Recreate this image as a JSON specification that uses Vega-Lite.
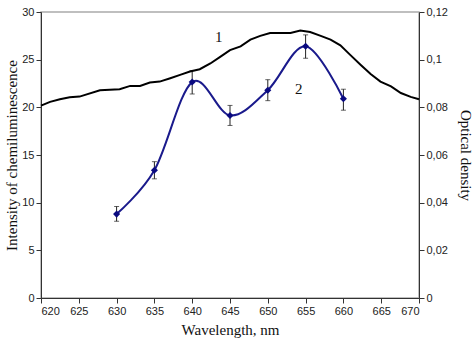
{
  "$schema": "https://vega.github.io/schema/vega-lite/v6.json",
  "autosize": {"type": "none"},
  "width": 378,
  "height": 286,
  "padding": {"left": 41, "top": 12, "right": 55, "bottom": 57},
  "background": "white",
  "config": {
    "view": {"stroke": "#aaaaaa", "strokeWidth": 1.5},
    "axis": {
      "grid": false,
      "domainColor": "#333333",
      "tickColor": "#333333",
      "tickSize": 5,
      "labelFont": "Liberation Sans",
      "labelFontSize": 11,
      "labelColor": "#222222",
      "titleFont": "Liberation Serif",
      "titleFontSize": 15,
      "titleFontWeight": "normal",
      "titleColor": "#111111"
    }
  },
  "datasets": {
    "od": [
      {"wl": 620.0, "od": 0.0807},
      {"wl": 621.2, "od": 0.0823},
      {"wl": 622.5, "od": 0.0834},
      {"wl": 623.8, "od": 0.0842},
      {"wl": 625.1, "od": 0.0845},
      {"wl": 627.8, "od": 0.0872},
      {"wl": 630.4, "od": 0.0876},
      {"wl": 631.8, "od": 0.089},
      {"wl": 633.1, "od": 0.089},
      {"wl": 634.4, "od": 0.0904},
      {"wl": 635.7, "od": 0.0908},
      {"wl": 637.1, "od": 0.0922},
      {"wl": 638.4, "od": 0.0936},
      {"wl": 639.7, "od": 0.095},
      {"wl": 641.0, "od": 0.096},
      {"wl": 642.4, "od": 0.0984},
      {"wl": 643.7, "od": 0.1012},
      {"wl": 645.0, "od": 0.104},
      {"wl": 646.4, "od": 0.1056},
      {"wl": 647.7, "od": 0.1084},
      {"wl": 649.0, "od": 0.11},
      {"wl": 650.3, "od": 0.1112},
      {"wl": 651.7, "od": 0.1112},
      {"wl": 653.0, "od": 0.1112},
      {"wl": 654.3, "od": 0.1122},
      {"wl": 655.6, "od": 0.1116},
      {"wl": 657.0, "od": 0.11},
      {"wl": 658.3, "od": 0.1084},
      {"wl": 659.6, "od": 0.106},
      {"wl": 660.9, "od": 0.102},
      {"wl": 662.3, "od": 0.0978},
      {"wl": 663.6, "od": 0.094},
      {"wl": 664.9, "od": 0.0908},
      {"wl": 666.3, "od": 0.0888},
      {"wl": 667.6, "od": 0.086},
      {"wl": 668.9, "od": 0.0844},
      {"wl": 670.0, "od": 0.0834}
    ],
    "cl": [
      {"wl": 630, "cl": 8.8, "lo": 8.05, "hi": 9.6},
      {"wl": 635, "cl": 13.4, "lo": 12.5, "hi": 14.3},
      {"wl": 640, "cl": 22.65, "lo": 21.4, "hi": 23.85},
      {"wl": 645, "cl": 19.15, "lo": 18.1, "hi": 20.2},
      {"wl": 650, "cl": 21.8, "lo": 20.7, "hi": 22.9},
      {"wl": 655, "cl": 26.4, "lo": 25.15, "hi": 27.6},
      {"wl": 660, "cl": 20.9, "lo": 19.7, "hi": 21.9}
    ],
    "labels": [
      {"wl": 643.5, "y": 27.4, "text": "1"},
      {"wl": 654.1, "y": 21.9, "text": "2"}
    ]
  },
  "encoding": {
    "x": {
      "field": "wl",
      "type": "quantitative",
      "scale": {"domain": [620, 670], "nice": false},
      "axis": {"values": [620, 625, 630, 635, 640, 645, 650, 655, 660, 665, 670], "title": "Wavelength, nm", "titlePadding": 6}
    }
  },
  "layer": [
    {
      "layer": [
        {
          "data": {"name": "cl"},
          "mark": {"type": "rule", "color": "#222222", "strokeWidth": 1},
          "encoding": {
            "y": {"field": "lo", "type": "quantitative", "scale": {"domain": [0, 30], "nice": false}},
            "y2": {"field": "hi"}
          }
        },
        {
          "data": {"name": "cl"},
          "mark": {"type": "tick", "color": "#222222", "size": 5, "thickness": 1, "orient": "horizontal"},
          "encoding": {"y": {"field": "lo", "type": "quantitative"}}
        },
        {
          "data": {"name": "cl"},
          "mark": {"type": "tick", "color": "#222222", "size": 5, "thickness": 1, "orient": "horizontal"},
          "encoding": {"y": {"field": "hi", "type": "quantitative"}}
        },
        {
          "data": {"name": "cl"},
          "mark": {"type": "line", "color": "#1a1a8c", "strokeWidth": 2, "interpolate": "cardinal"},
          "encoding": {
            "y": {
              "field": "cl",
              "type": "quantitative",
              "scale": {"domain": [0, 30], "nice": false},
              "axis": {"orient": "left", "values": [0, 5, 10, 15, 20, 25, 30], "title": "Intensity of chemiluminescence", "titlePadding": 2}
            }
          }
        },
        {
          "data": {"name": "cl"},
          "mark": {"type": "point", "shape": "diamond", "filled": true, "color": "#0a0a80", "size": 50, "opacity": 1},
          "encoding": {"y": {"field": "cl", "type": "quantitative"}}
        },
        {
          "data": {"name": "labels"},
          "mark": {"type": "text", "font": "Liberation Serif", "fontSize": 15, "color": "#111111"},
          "encoding": {
            "y": {"field": "y", "type": "quantitative"},
            "text": {"field": "text"}
          }
        }
      ]
    },
    {
      "data": {"name": "od"},
      "mark": {"type": "line", "color": "#000000", "strokeWidth": 2},
      "encoding": {
        "y": {
          "field": "od",
          "type": "quantitative",
          "scale": {"domain": [0, 0.12], "nice": false},
          "axis": {
            "orient": "right",
            "values": [0, 0.02, 0.04, 0.06, 0.08, 0.1, 0.12],
            "labelExpr": "replace(toString(datum.value), '.', ',')",
            "title": "Optical density",
            "titlePadding": 10
          }
        }
      }
    }
  ],
  "resolve": {"scale": {"y": "independent"}}
}
